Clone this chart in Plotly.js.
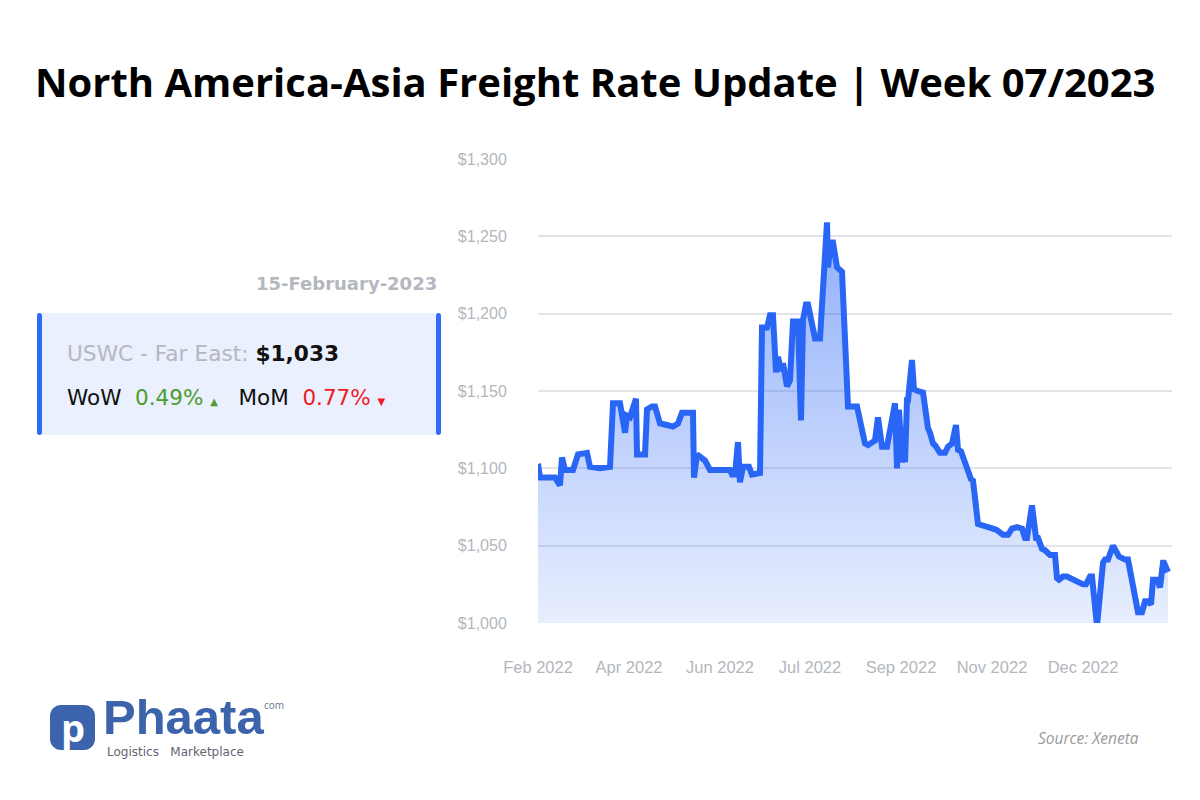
<!DOCTYPE html>
<html>
<head>
<meta charset="utf-8">
<script src="https://cdn.plot.ly/plotly-3.0.1.min.js"></script>
<style>html,body{margin:0;padding:0;background:#fff;}#chart{width:1200px;height:800px;}</style>
</head>
<body>
<div id="chart"></div>
<script>
// ---- data (time position along the axis, rate in USD) ----
const t = [0,2,17,22,24,27,35,40,49,52,62,72,75,82,87,89,92,98,99,107,109,114,117,122,129,135,140,144,155,156,159,167,172,192,194,197,200,202,205,211,214,222,224,229,232,235,238,240,243,245,249,252,255,260,263,265,268,270,277,282,289,290,293,295,299,304,310,319,327,330,337,340,344,349,357,359,361,364,366,367,369,370,374,376,380,385,390,392,395,397,402,407,410,414,418,420,423,428,430,433,435,439,440,455,459,465,470,474,479,484,487,489,493,494,498,500,504,507,512,517,519,521,525,529,545,548,552,554,559,565,567,570,575,579,581,587,590,600,604,607,610,613,615,619,622,625,626,630,633];
const rate = [1103,1094,1094,1089,1107,1099,1099,1109,1110,1101,1100,1101,1142,1142,1123,1134,1133,1145,1109,1109,1138,1140,1140,1129,1128,1127,1129,1136,1136,1094,1109,1105,1099,1099,1096,1096,1117,1091,1101,1101,1096,1097,1191,1191,1199,1199,1162,1172,1163,1168,1153,1157,1195,1195,1131,1196,1206,1206,1184,1184,1259,1230,1246,1246,1230,1227,1140,1140,1116,1115,1118,1133,1114,1114,1142,1100,1138,1104,1109,1104,1144,1144,1170,1151,1150,1149,1126,1123,1116,1115,1110,1110,1114,1116,1128,1112,1111,1101,1100,1093,1092,1064,1064,1061,1060,1057,1057,1061,1062,1061,1055,1055,1076,1076,1055,1055,1048,1047,1044,1044,1029,1028,1030,1030,1025,1025,1030,1030,998,1039,1041,1041,1050,1044,1043,1041,1041,1007,1007,1014,1014,1012,1028,1028,1023,1039,1039,1033];
const tickT = [0,91,182,272,363,454,545];
const tickLabels = ["Feb 2022","Apr 2022","Jun 2022","Jul 2022","Sep 2022","Nov 2022","Dec 2022"];
const yTicks = [1000,1050,1100,1150,1200,1250,1300];
const yTickLabels = ["$1,000","$1,050","$1,100","$1,150","$1,200","$1,250","$1,300"];

const titleText = "North America-Asia Freight Rate Update | Week 07/2023";
const dateText = "15-February-2023";
const routeName = "USWC - Far East:";
const routeRate = "$1,033";
const wow = "0.49%";
const mom = "0.77%";

// ---- layout helpers (pixel -> paper) ----
const W = 1200, H = 800, L = 538, R = 28, T = 159, B = 177;
const PW = W - L - R, PH = H - T - B;
const X = p => (p - L) / PW;
const Y = p => (H - B - p) / PH;

function roundRectPath(x0, y0, x1, y1, r) {
  const k = 0.45;
  return `M ${X(x0 + r)} ${Y(y0)} L ${X(x1 - r)} ${Y(y0)} ` +
    `C ${X(x1 - r * k)} ${Y(y0)} ${X(x1)} ${Y(y0 + r * k)} ${X(x1)} ${Y(y0 + r)} ` +
    `L ${X(x1)} ${Y(y1 - r)} ` +
    `C ${X(x1)} ${Y(y1 - r * k)} ${X(x1 - r * k)} ${Y(y1)} ${X(x1 - r)} ${Y(y1)} ` +
    `L ${X(x0 + r)} ${Y(y1)} ` +
    `C ${X(x0 + r * k)} ${Y(y1)} ${X(x0)} ${Y(y1 - r * k)} ${X(x0)} ${Y(y1 - r)} ` +
    `L ${X(x0)} ${Y(y0 + r)} ` +
    `C ${X(x0)} ${Y(y0 + r * k)} ${X(x0 + r * k)} ${Y(y0)} ${X(x0 + r)} ${Y(y0)} Z`;
}

const trace = {
  x: t, y: rate, type: 'scatter', mode: 'lines',
  line: {color: '#2a66f6', width: 6, shape: 'linear'},
  fill: 'tozeroy',
  fillgradient: {
    type: 'vertical',
    start: 1000, stop: 1260,
    colorscale: [[0, 'rgba(42,102,246,0.11)'], [1, 'rgba(42,102,246,0.52)']]
  },
  hoverinfo: 'skip'
};

const panelFont = '"DejaVu Sans", Inter, sans-serif';

const layout = {
  width: W, height: H,
  margin: {l: L, r: R, t: T, b: B, pad: 0},
  paper_bgcolor: '#ffffff', plot_bgcolor: '#ffffff',
  showlegend: false,
  title: {
    text: titleText,
    xref: 'container', yref: 'container',
    x: 0.496, y: 1 - 83 / H, xanchor: 'center', yanchor: 'middle',
    font: {family: '"Open Sans", sans-serif', size: 40, weight: 'bold', color: '#000000'}
  },
  xaxis: {
    range: [0, PW], showgrid: false, zeroline: false, showline: false,
    tickmode: 'array', tickvals: tickT, ticktext: tickLabels,
    ticks: 'outside', ticklen: 29, tickcolor: 'rgba(0,0,0,0)',
    tickfont: {family: '"Liberation Sans", Arial, sans-serif', size: 16.5, color: '#b3b6bd'},
    fixedrange: true
  },
  yaxis: {
    range: [1000, 1300], showgrid: true, gridcolor: '#e2e4ea', gridwidth: 2,
    zeroline: false, showline: false,
    tickmode: 'array', tickvals: yTicks, ticktext: yTickLabels,
    ticks: 'outside', ticklen: 27, tickcolor: 'rgba(0,0,0,0)',
    tickfont: {family: '"Liberation Sans", Arial, sans-serif', size: 16, color: '#b3b6bd'},
    fixedrange: true
  },
  shapes: [
    // info panel
    {type: 'rect', xref: 'paper', yref: 'paper', x0: X(37), x1: X(440), y0: Y(313), y1: Y(435),
      fillcolor: '#eaf0fd', line: {width: 0}, layer: 'below'},
    {type: 'path', xref: 'paper', yref: 'paper', path: roundRectPath(37, 313, 42, 435, 2.5),
      fillcolor: '#2f6cf5', line: {width: 0}},
    {type: 'path', xref: 'paper', yref: 'paper', path: roundRectPath(436, 313, 441, 435, 2.5),
      fillcolor: '#2f6cf5', line: {width: 0}},
    // logo icon
    {type: 'path', xref: 'paper', yref: 'paper', path: roundRectPath(50, 705, 95, 750, 11),
      fillcolor: '#3b64ad', line: {width: 0}}
  ],
  annotations: [
    {xref: 'paper', yref: 'paper', x: X(439), y: Y(283), xanchor: 'right', yanchor: 'middle',
      showarrow: false, text: '<b>' + dateText + '</b>',
      font: {family: panelFont, size: 18, color: '#b4b7c0'}},
    {xref: 'paper', yref: 'paper', x: X(65), y: Y(353), xanchor: 'left', yanchor: 'middle',
      showarrow: false,
      text: routeName + ' <b><span style="color:#111111">' + routeRate + '</span></b>',
      font: {family: panelFont, size: 21.7, color: '#b5b8c0'}},
    {xref: 'paper', yref: 'paper', x: X(65), y: Y(397), xanchor: 'left', yanchor: 'middle',
      showarrow: false,
      text: 'WoW  <span style="color:#4c9c2e">' + wow + '</span> <span style="color:#4c9c2e;font-size:10px">▲</span>' +
            '   MoM  <span style="color:#ee1c25">' + mom + '</span> <span style="color:#ee1c25;font-size:10px">▼</span>',
      font: {family: panelFont, size: 21.5, color: '#111111'}},
    // logo
    {xref: 'paper', yref: 'paper', x: X(72.5), y: Y(727), xanchor: 'center', yanchor: 'middle',
      showarrow: false, text: '<b>p</b>',
      font: {family: '"Open Sans", sans-serif', size: 38, color: '#ffffff'}},
    {xref: 'paper', yref: 'paper', x: X(101), y: Y(717), xanchor: 'left', yanchor: 'middle',
      showarrow: false, text: 'Phaata',
      font: {family: '"Liberation Sans", sans-serif', size: 49, weight: 'bold', color: '#3b64ad'}},
    {xref: 'paper', yref: 'paper', x: X(262), y: Y(705), xanchor: 'left', yanchor: 'middle',
      showarrow: false, text: 'com',
      font: {family: '"Noto Sans", sans-serif', size: 10, color: '#6f7d99'}},
    {xref: 'paper', yref: 'paper', x: X(105), y: Y(752), xanchor: 'left', yanchor: 'middle',
      showarrow: false, text: 'Logistics   Marketplace',
      font: {family: '"DejaVu Sans", sans-serif', size: 12, color: '#5f6470'}},
    // source
    {xref: 'paper', yref: 'paper', x: X(1141), y: Y(738), xanchor: 'right', yanchor: 'middle',
      showarrow: false, text: 'Source: Xeneta',
      font: {family: '"Open Sans", sans-serif', size: 15.5, style: 'italic', color: '#9a9a9a'}}
  ]
};

Plotly.newPlot('chart', [trace], layout, {displayModeBar: false, staticPlot: true});
</script>
</body>
</html>
